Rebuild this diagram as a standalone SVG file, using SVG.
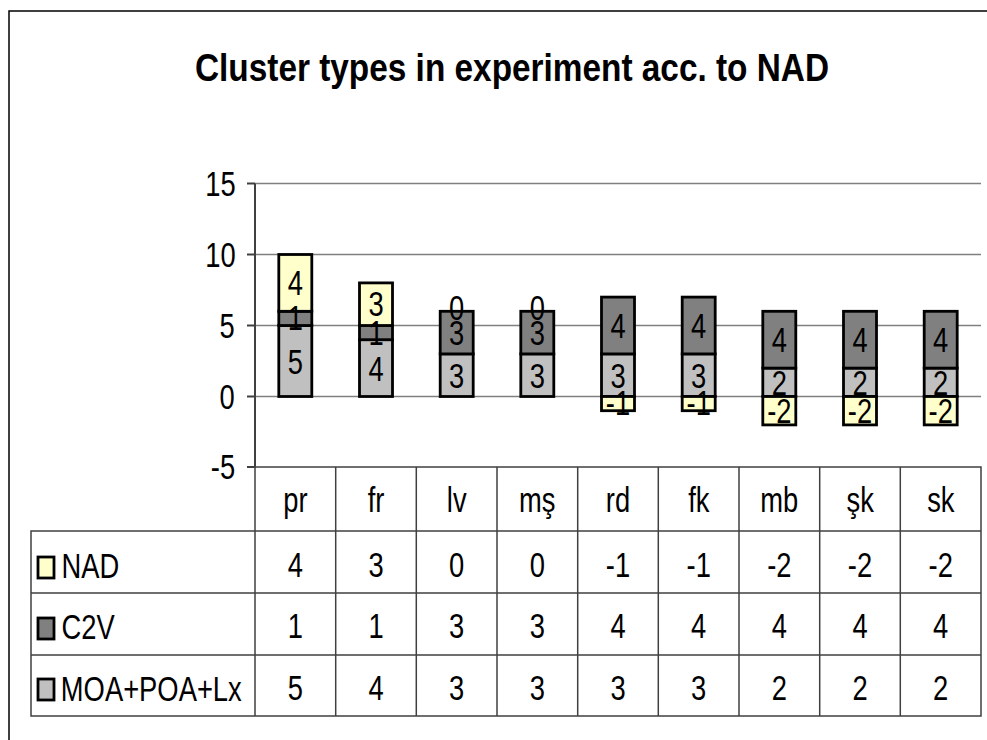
<svg xmlns="http://www.w3.org/2000/svg" width="987" height="740" viewBox="0 0 987 740">
<style>
text{font-family:"Liberation Sans",Arial,sans-serif;fill:#000}
.t{font-size:36px;text-anchor:middle;transform:scaleX(0.76);transform-box:fill-box;transform-origin:center}
.ttl{font-size:39px;font-weight:bold;text-anchor:middle}
.grid{stroke:#808080;stroke-width:1.5}
.ax{stroke:#404040;stroke-width:2;fill:none}
.tbl{stroke:#404040;stroke-width:1.5;fill:none}
.bar{stroke:#000;stroke-width:2.8}
.nad{fill:#FFFFCC}
.c2v{fill:#808080}
.moa{fill:#C0C0C0}
</style>
<rect x="0" y="0" width="987" height="740" fill="#fff"/>
<path d="M9,745 V11 H995" fill="none" stroke="#000" stroke-width="1.5"/>
<g id="title"><text class="ttl" x="512" y="81" textLength="634" lengthAdjust="spacingAndGlyphs">Cluster types in experiment acc. to NAD</text></g>
<g id="axes">
<line class="grid" x1="255" y1="183.5" x2="981" y2="183.5"/>
<line class="grid" x1="255" y1="254.5" x2="981" y2="254.5"/>
<line class="grid" x1="255" y1="325.5" x2="981" y2="325.5"/>
<line class="grid" x1="255" y1="396.5" x2="981" y2="396.5"/>
<path class="ax" d="M255,183.5 V467 M247,183.5 H255 M247,254.5 H255 M247,325.5 H255 M247,396.5 H255 M247,467 H255"/>
<text class="t" x="220.5" y="196.5">15</text>
<text class="t" x="220.5" y="267">10</text>
<text class="t" x="227" y="338">5</text>
<text class="t" x="227" y="409">0</text>
<text class="t" x="223" y="479.5">-5</text>
</g>
<g id="bars">
<g id="bar-pr"><rect class="bar moa" x="278.8" y="325.5" width="33" height="71"/><rect class="bar c2v" x="278.8" y="311.3" width="33" height="14.2"/><rect class="bar nad" x="278.8" y="254.5" width="33" height="56.8"/>
<text class="t" x="295.3" y="374">5</text><text class="t" x="295.3" y="330.4">1</text><text class="t" x="295.3" y="295.5">4</text></g>
<g id="bar-fr"><rect class="bar moa" x="359.5" y="339.7" width="33" height="56.8"/><rect class="bar c2v" x="359.5" y="325.5" width="33" height="14.2"/><rect class="bar nad" x="359.5" y="282.9" width="33" height="42.6"/>
<text class="t" x="376" y="381">4</text><text class="t" x="376" y="344.6">1</text><text class="t" x="376" y="316.2">3</text></g>
<g id="bar-lv"><rect class="bar moa" x="440.2" y="353.9" width="33" height="42.6"/><rect class="bar c2v" x="440.2" y="311.3" width="33" height="42.6"/>
<text class="t" x="456.7" y="388">3</text><text class="t" x="456.7" y="344.6">3</text><text class="t" x="456.7" y="320.3">0</text></g>
<g id="bar-ms"><rect class="bar moa" x="520.8" y="353.9" width="33" height="42.6"/><rect class="bar c2v" x="520.8" y="311.3" width="33" height="42.6"/>
<text class="t" x="537.3" y="388">3</text><text class="t" x="537.3" y="344.6">3</text><text class="t" x="537.3" y="320.3">0</text></g>
<g id="bar-rd"><rect class="bar moa" x="601.5" y="353.9" width="33" height="42.6"/><rect class="bar c2v" x="601.5" y="297.1" width="33" height="56.8"/><rect class="bar nad" x="601.5" y="396.5" width="33" height="14.2"/>
<text class="t" x="618" y="388">3</text><text class="t" x="618" y="338">4</text><text class="t" x="618" y="415.5">-1</text></g>
<g id="bar-fk"><rect class="bar moa" x="682.2" y="353.9" width="33" height="42.6"/><rect class="bar c2v" x="682.2" y="297.1" width="33" height="56.8"/><rect class="bar nad" x="682.2" y="396.5" width="33" height="14.2"/>
<text class="t" x="698.7" y="388">3</text><text class="t" x="698.7" y="338">4</text><text class="t" x="698.7" y="415.5">-1</text></g>
<g id="bar-mb"><rect class="bar moa" x="762.8" y="368.1" width="33" height="28.4"/><rect class="bar c2v" x="762.8" y="311.3" width="33" height="56.8"/><rect class="bar nad" x="762.8" y="396.5" width="33" height="28.4"/>
<text class="t" x="779.3" y="395">2</text><text class="t" x="779.3" y="352.5">4</text><text class="t" x="779.3" y="423.5">-2</text></g>
<g id="bar-sk1"><rect class="bar moa" x="843.5" y="368.1" width="33" height="28.4"/><rect class="bar c2v" x="843.5" y="311.3" width="33" height="56.8"/><rect class="bar nad" x="843.5" y="396.5" width="33" height="28.4"/>
<text class="t" x="860" y="395">2</text><text class="t" x="860" y="352.5">4</text><text class="t" x="860" y="423.5">-2</text></g>
<g id="bar-sk2"><rect class="bar moa" x="924.2" y="368.1" width="33" height="28.4"/><rect class="bar c2v" x="924.2" y="311.3" width="33" height="56.8"/><rect class="bar nad" x="924.2" y="396.5" width="33" height="28.4"/>
<text class="t" x="940.7" y="395">2</text><text class="t" x="940.7" y="352.5">4</text><text class="t" x="940.7" y="423.5">-2</text></g>
</g>
<g id="table">
<path class="tbl" d="M255,467 H981 V716 H31 V531 H981 M31,593 H981 M31,655 H981 M255,467 V716 M335.7,467 V716 M416.3,467 V716 M497,467 V716 M577.7,467 V716 M658.3,467 V716 M739,467 V716 M819.7,467 V716 M900.3,467 V716"/>
<text class="t" x="295.3" y="512">pr</text>
<text class="t" x="376" y="512">fr</text>
<text class="t" x="456.7" y="512">lv</text>
<text class="t" x="537.3" y="512">mş</text>
<text class="t" x="618" y="512">rd</text>
<text class="t" x="698.7" y="512">fk</text>
<text class="t" x="779.3" y="512">mb</text>
<text class="t" x="860" y="512">şk</text>
<text class="t" x="940.7" y="512">sk</text>
<g id="legend-nad"><rect class="bar nad" x="38" y="557" width="16" height="21" stroke-width="2.4"/><text class="t" x="90.5" y="578">NAD</text></g>
<g id="legend-c2v"><rect class="bar c2v" x="38" y="618" width="16" height="21" stroke-width="2.4"/><text class="t" x="88" y="639">C2V</text></g>
<g id="legend-moa"><rect class="bar moa" x="38" y="679" width="16" height="21" stroke-width="2.4"/><text class="t" x="151.3" y="701">MOA+POA+Lx</text></g>
<text class="t" x="295.3" y="577">4</text><text class="t" x="376" y="577">3</text><text class="t" x="456.7" y="577">0</text><text class="t" x="537.3" y="577">0</text><text class="t" x="618" y="577">-1</text><text class="t" x="698.7" y="577">-1</text><text class="t" x="779.3" y="577">-2</text><text class="t" x="860" y="577">-2</text><text class="t" x="940.7" y="577">-2</text>
<text class="t" x="295.3" y="638.5">1</text><text class="t" x="376" y="638.5">1</text><text class="t" x="456.7" y="638.5">3</text><text class="t" x="537.3" y="638.5">3</text><text class="t" x="618" y="638.5">4</text><text class="t" x="698.7" y="638.5">4</text><text class="t" x="779.3" y="638.5">4</text><text class="t" x="860" y="638.5">4</text><text class="t" x="940.7" y="638.5">4</text>
<text class="t" x="295.3" y="700.5">5</text><text class="t" x="376" y="700.5">4</text><text class="t" x="456.7" y="700.5">3</text><text class="t" x="537.3" y="700.5">3</text><text class="t" x="618" y="700.5">3</text><text class="t" x="698.7" y="700.5">3</text><text class="t" x="779.3" y="700.5">2</text><text class="t" x="860" y="700.5">2</text><text class="t" x="940.7" y="700.5">2</text>
</g>
</svg>
